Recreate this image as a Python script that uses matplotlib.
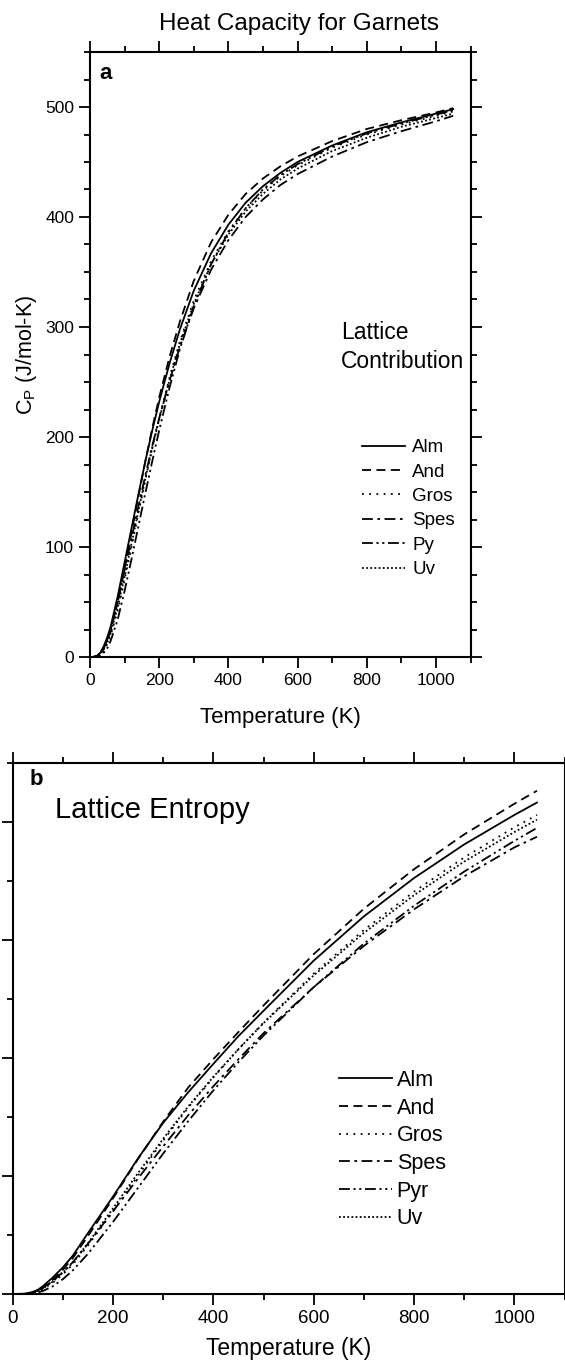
import matplotlib
matplotlib.use("Agg")
import matplotlib.pyplot as plt
from matplotlib.ticker import MultipleLocator

plt.rcParams['font.family'] = ['Liberation Sans', 'DejaVu Sans']

names = ['Alm', 'And', 'Gros', 'Spes', 'Py', 'Uv']
names_b = ['Alm', 'And', 'Gros', 'Spes', 'Pyr', 'Uv']

# panel a: lattice heat capacity (J/mol-K)
t_cp = [0, 10, 20, 30, 40, 50, 60, 80, 100, 120, 140, 160, 180, 200, 230, 260,
        300, 350, 400, 450, 500, 550, 600, 700, 800, 900, 1000, 1050]
cp_alm = [0, 0.1, 1, 4, 10, 18, 28, 55, 86, 117, 148, 178, 206, 232, 267, 298,
          333, 367, 393, 413, 428, 440, 450, 465, 477, 486, 494, 498]
cp_and = [0, 0.1, 0.8, 3, 8, 15, 24, 50, 80, 113, 146, 178, 208, 236, 273, 305,
          342, 377, 402, 421, 435, 446, 455, 469, 480, 488, 495, 499]
cp_gros = [0, 0.05, 0.5, 2, 6, 12, 20, 42, 70, 100, 131, 161, 190, 217, 254, 287,
           324, 360, 387, 408, 424, 437, 447, 463, 475, 484, 492, 496]
cp_spes = [0, 0.1, 0.9, 3.5, 9, 16, 25, 50, 79, 108, 137, 165, 192, 217, 251, 282,
           317, 352, 379, 400, 416, 429, 439, 455, 468, 478, 487, 492]
cp_py = [0, 0.02, 0.3, 1.3, 4, 8, 15, 34, 60, 89, 119, 149, 178, 206, 245, 280,
         319, 357, 386, 408, 425, 438, 448, 464, 476, 485, 493, 497]
cp_uv = [0, 0.05, 0.6, 2.5, 7, 13, 22, 45, 73, 103, 133, 162, 190, 216, 252, 285,
         321, 357, 384, 405, 421, 434, 444, 460, 472, 482, 490, 494]

# panel b: lattice entropy (J/mol-K)
t_s = [0, 20, 30, 40, 50, 60, 80, 100, 120, 150, 200, 250, 300, 350, 400, 450,
       500, 600, 700, 800, 900, 1000, 1045]
s_alm = [0, 0.3, 1.2, 3.5, 7, 13, 28, 45, 65, 103, 165, 230, 290, 342, 390, 437,
         480, 565, 640, 705, 762, 812, 833]
s_and = [0, 0.2, 0.8, 2.5, 5.5, 10, 24, 41, 61, 98, 162, 229, 292, 350, 398, 444,
         489, 576, 653, 720, 779, 831, 853]
s_gros = [0, 0.2, 0.6, 2, 4.5, 8, 19, 33, 50, 82, 140, 201, 260, 316, 367, 415,
          460, 543, 617, 682, 740, 791, 812]
s_spes = [0, 0.3, 1, 3, 6, 10, 22, 37, 54, 85, 140, 196, 250, 303, 352, 398,
          442, 520, 590, 652, 708, 757, 775]
s_pyr = [0, 0.05, 0.3, 1, 2.5, 5, 13, 25, 40, 68, 122, 180, 238, 293, 345, 393,
         438, 520, 594, 658, 716, 768, 790]
s_uv = [0, 0.2, 0.7, 2.2, 5, 9, 21, 36, 53, 86, 145, 205, 263, 318, 368, 415,
        459, 540, 612, 676, 733, 783, 804]

styles = ['-', (0, (5, 3)), (0, (1, 3)), (0, (6, 2.5, 1.5, 2.5)),
          (0, (6, 2, 1.2, 2, 1.2, 2)), (0, (1, 1.3))]

fig = plt.figure(figsize=(5.65, 13.64), dpi=100)
W, H = 565.0, 1364.0
ax1 = fig.add_axes([90 / W, 1 - 657 / H, 380.5 / W, 605 / H])
ax2 = fig.add_axes([12.6 / W, 1 - 1294 / H, 552 / W, 531 / H])

for ys, name, ls in zip([cp_alm, cp_and, cp_gros, cp_spes, cp_py, cp_uv], names, styles):
    ax1.plot(t_cp, ys, color='black', lw=1.3, linestyle=ls, label=name)
for ys, name, ls in zip([s_alm, s_and, s_gros, s_spes, s_pyr, s_uv], names_b, styles):
    ax2.plot(t_s, ys, color='black', lw=1.3, linestyle=ls, label=name)

ax1.set_xlim(0, 1100)
ax1.set_ylim(0, 550)
ax1.xaxis.set_major_locator(MultipleLocator(200))
ax1.xaxis.set_minor_locator(MultipleLocator(100))
ax1.yaxis.set_major_locator(MultipleLocator(100))
ax1.yaxis.set_minor_locator(MultipleLocator(25))
ax1.set_xlabel('Temperature (K)', fontsize=16, labelpad=14)
ax1.set_ylabel(r'C$_\mathregular{P}$ (J/mol-K)', fontsize=15.5, labelpad=4)
ax1.tick_params(labelsize=12.5)

ax2.set_xlim(0, 1100)
ax2.set_ylim(0, 900)
ax2.xaxis.set_major_locator(MultipleLocator(200))
ax2.xaxis.set_minor_locator(MultipleLocator(100))
ax2.yaxis.set_major_locator(MultipleLocator(200))
ax2.yaxis.set_minor_locator(MultipleLocator(100))
ax2.set_xlabel('Temperature (K)', fontsize=16.5, labelpad=7)
ax2.tick_params(labelsize=13.5, labelleft=False)

for ax in (ax1, ax2):
    for sp in ax.spines.values():
        sp.set_linewidth(1.5)
    ax.tick_params(which='both', direction='out', top=True, right=True, width=1.3)
    ax.tick_params(which='major', length=8)
    ax.tick_params(which='minor', length=4.5)

fig.text(299 / W, 1 - 24 / H, 'Heat Capacity for Garnets', fontsize=17.5,
         ha='center', va='center')

ax1.text(0.024, 0.964, 'a', transform=ax1.transAxes, fontsize=16,
         fontweight='bold', ha='left', va='center')
ax1.text((464 - 90) / 380.5, (657 - 347) / 605, 'Lattice\nContribution',
         transform=ax1.transAxes, fontsize=16.5, ha='right', va='center',
         multialignment='left', linespacing=1.35)
ax1.legend(loc='upper left', bbox_to_anchor=((362 - 90) / 380.5, (657 - 439) / 605),
           frameon=False, fontsize=13.5, handlelength=2.3, handletextpad=0.37,
           labelspacing=0.39, borderpad=0, borderaxespad=0)

ax2.text(0.0315, 0.968, 'b', transform=ax2.transAxes, fontsize=16,
         fontweight='bold', ha='left', va='center')
ax2.text((55 - 12.6) / 552, (1294 - 810) / 531, 'Lattice Entropy',
         transform=ax2.transAxes, fontsize=21, ha='left', va='center')
ax2.legend(loc='upper left', bbox_to_anchor=((339 - 12.6) / 552, (1294 - 1070) / 531),
           frameon=False, fontsize=15.5, handlelength=2.45, handletextpad=0.23,
           labelspacing=0.31, borderpad=0, borderaxespad=0)

fig.savefig('out.png', dpi=100)
